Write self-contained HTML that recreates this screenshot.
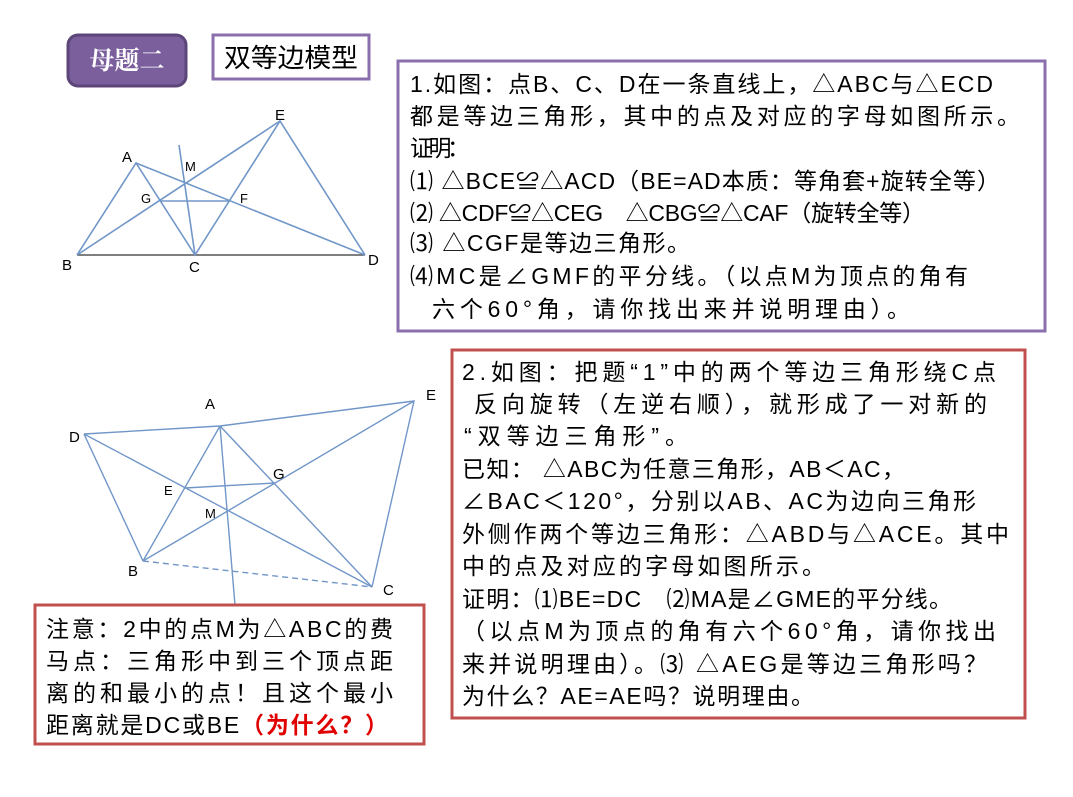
<!DOCTYPE html>
<html><head><meta charset="utf-8"><style>
body{margin:0;background:#fff;}
svg text{font-family:"Liberation Sans","Noto Sans CJK SC",sans-serif;}
.t{font-size:23px;fill:#000;}
.l{font-size:15px;fill:#000;}
</style></head><body>
<svg width="1073" height="792" xmlns="http://www.w3.org/2000/svg">
<rect x="0" y="0" width="1073" height="792" fill="#fff"/>
<rect x="68" y="35" width="118" height="51" rx="10" fill="#7a5f9c" stroke="#5c4578" stroke-width="3"/>
<text x="127" y="69" text-anchor="middle" style="font-size:25px;fill:#fff;font-weight:bold;font-family:'Noto Serif CJK SC',serif">母题二</text>
<rect x="213" y="35" width="156" height="44" fill="#fff" stroke="#8b6fac" stroke-width="3"/>
<text x="291" y="67" text-anchor="middle" style="font-size:26px" textLength="134" lengthAdjust="spacingAndGlyphs">双等边模型</text>
<g stroke="#7196c8" stroke-width="1.6" fill="none">
<line x1="77" y1="255" x2="365" y2="255" stroke="#555"/>
<polyline points="77,255 136,163 195,255 280,121 365,255"/>
<line x1="77" y1="255" x2="280" y2="121"/>
<line x1="136" y1="163" x2="365" y2="255"/>
<line x1="160" y1="201" x2="230" y2="201"/>
<line x1="179" y1="145" x2="195" y2="255"/>
</g>
<text class="l" x="122" y="162">A</text><text class="l" x="275" y="120">E</text>
<text class="l" x="185" y="171" style="font-size:13px">M</text>
<text class="l" x="141" y="203" style="font-size:13px">G</text><text class="l" x="240" y="203" style="font-size:13px">F</text>
<text class="l" x="62" y="270">B</text><text class="l" x="189" y="272">C</text><text class="l" x="368" y="265">D</text>
<g stroke="#7196c8" stroke-width="1.4" fill="none">
<polyline points="84,434 220,426 414,401 372,587"/>
<line x1="84" y1="434" x2="143" y2="561"/>
<line x1="84" y1="434" x2="372" y2="587"/>
<line x1="143" y1="561" x2="220" y2="426"/>
<line x1="220" y1="426" x2="372" y2="587"/>
<line x1="143" y1="561" x2="414" y2="401"/>
<line x1="185" y1="488" x2="275" y2="483"/>
<line x1="220" y1="426" x2="235" y2="605"/>
<line x1="143" y1="561" x2="372" y2="587" stroke-dasharray="6,4"/>
</g>
<text class="l" x="205" y="409">A</text><text class="l" x="426" y="400">E</text>
<text class="l" x="69" y="442">D</text><text class="l" x="273" y="479">G</text>
<text class="l" x="164" y="495" style="font-size:13px">E</text><text class="l" x="205" y="518" style="font-size:13px">M</text>
<text class="l" x="128" y="576">B</text><text class="l" x="383" y="595">C</text>
<rect x="398" y="61" width="647" height="270" fill="#fff" stroke="#8b6fac" stroke-width="3"/>
<text class="t" x="410" y="92" textLength="583" lengthAdjust="spacing">1.如图：点B、C、D在一条直线上，△ABC与△ECD</text>
<text class="t" x="410" y="124" textLength="610" lengthAdjust="spacing">都是等边三角形，其中的点及对应的字母如图所示。</text>
<text class="t" x="410" y="156" textLength="60" lengthAdjust="spacing">证明：</text>
<text class="t" x="410" y="189" textLength="590" lengthAdjust="spacing">⑴ △BCE≌△ACD（BE=AD本质：等角套+旋转全等）</text>
<text class="t" x="410" y="221" textLength="515" lengthAdjust="spacing">⑵ △CDF≌△CEG　△CBG≌△CAF（旋转全等）</text>
<text class="t" x="410" y="251" textLength="280" lengthAdjust="spacing">⑶ △CGF是等边三角形。</text>
<text class="t" x="410" y="284" textLength="558" lengthAdjust="spacing">⑷MC是∠GMF的平分线。（以点M为顶点的角有</text>
<text class="t" x="432" y="317" textLength="478" lengthAdjust="spacing">六个60°角，请你找出来并说明理由）。</text>
<rect x="452" y="350" width="573" height="368" fill="#fff" stroke="#c0504d" stroke-width="3"/>
<text class="t" x="462" y="380" textLength="534" lengthAdjust="spacing">2.如图：把题“1”中的两个等边三角形绕C点</text>
<text class="t" x="474" y="412" textLength="513" lengthAdjust="spacing">反向旋转（左逆右顺），就形成了一对新的</text>
<text class="t" x="464" y="444" textLength="224" lengthAdjust="spacing">“双等边三角形”。</text>
<text class="t" x="462" y="477" textLength="443" lengthAdjust="spacing">已知： △ABC为任意三角形，AB＜AC，</text>
<text class="t" x="462" y="509" textLength="514" lengthAdjust="spacing">∠BAC＜120°，分别以AB、AC为边向三角形</text>
<text class="t" x="462" y="542" textLength="547" lengthAdjust="spacing">外侧作两个等边三角形：△ABD与△ACE。其中</text>
<text class="t" x="462" y="574" textLength="363" lengthAdjust="spacing">中的点及对应的字母如图所示。</text>
<text class="t" x="462" y="607" textLength="490" lengthAdjust="spacing">证明：⑴BE=DC　⑵MA是∠GME的平分线。</text>
<text class="t" x="462" y="639" textLength="534" lengthAdjust="spacing">（以点M为顶点的角有六个60°角，请你找出</text>
<text class="t" x="462" y="672" textLength="525" lengthAdjust="spacing">来并说明理由）。⑶ △AEG是等边三角形吗？</text>
<text class="t" x="462" y="704" textLength="352" lengthAdjust="spacing">为什么？AE=AE吗？说明理由。</text>
<rect x="35" y="605" width="389" height="139" fill="#fff" stroke="#c0504d" stroke-width="3"/>
<text class="t" x="46" y="637" textLength="347" lengthAdjust="spacing">注意：2中的点M为△ABC的费</text>
<text class="t" x="46" y="669" textLength="347" lengthAdjust="spacing">马点：三角形中到三个顶点距</text>
<text class="t" x="46" y="701" textLength="347" lengthAdjust="spacing">离的和最小的点！且这个最小</text>
<text class="t" x="46" y="733" textLength="342" lengthAdjust="spacing">距离就是DC或BE<tspan style="fill:#e00000;font-weight:bold">（为什么？）</tspan></text>
</svg>
</body></html>
